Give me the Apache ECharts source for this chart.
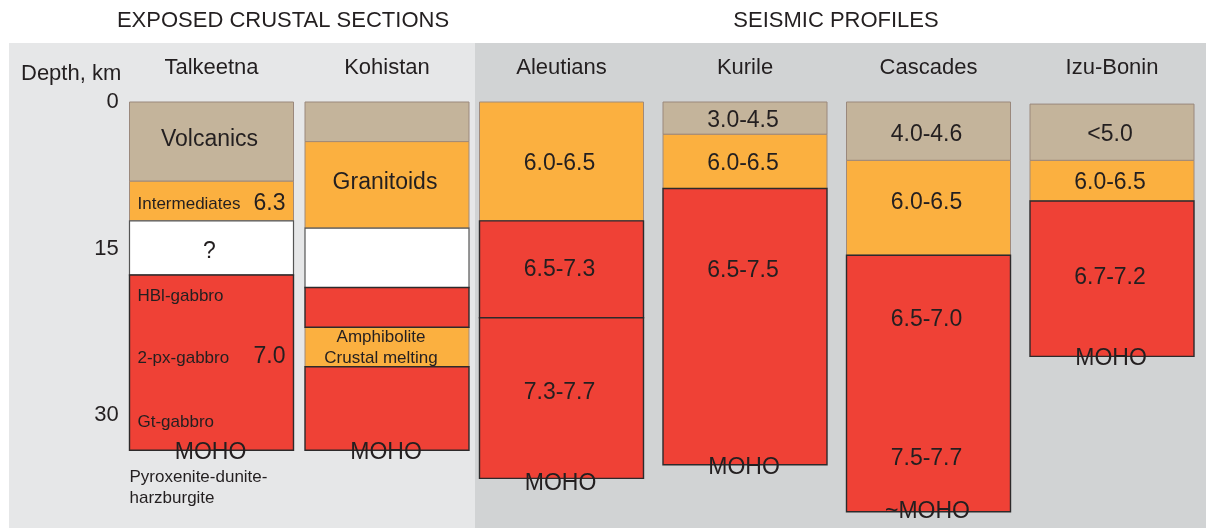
<!DOCTYPE html>
<html>
<head>
<meta charset="utf-8">
<script src="https://cdn.jsdelivr.net/npm/echarts@6/dist/echarts.min.js"></script>
<style>
  html, body { margin: 0; padding: 0; background: #ffffff; }
  #chart { width: 1206px; height: 528px; }
</style>
</head>
<body>
<div id="chart"></div>
<script>
// Columns: exposed arc crustal sections and seismic refraction profiles
const sections = ['Talkeetna', 'Kohistan'];
const profiles = ['Aleutians', 'Kurile', 'Cascades', 'Izu-Bonin'];
const depthTicks = [0, 15, 30];

// Crustal layers (depth in km): column, top, bottom, layer type
const layerColumn = [
  'Talkeetna', 'Talkeetna', 'Talkeetna', 'Talkeetna',
  'Kohistan', 'Kohistan', 'Kohistan', 'Kohistan', 'Kohistan', 'Kohistan',
  'Aleutians', 'Aleutians', 'Aleutians',
  'Kurile', 'Kurile', 'Kurile',
  'Cascades', 'Cascades', 'Cascades',
  'Izu-Bonin', 'Izu-Bonin', 'Izu-Bonin'
];
const layerTop = [
  0, 7.6, 11.4, 16.6,
  0, 3.8, 12.1, 17.8, 21.6, 25.4,
  0, 11.4, 20.7,
  0, 3.1, 8.3,
  0, 5.6, 14.7,
  0.2, 5.6, 9.5
];
const layerBottom = [
  7.6, 11.4, 16.6, 33.4,
  3.8, 12.1, 17.8, 21.6, 25.4, 33.4,
  11.4, 20.7, 36.1,
  3.1, 8.3, 34.8,
  5.6, 14.7, 39.3,
  5.6, 9.5, 24.4
];
const layerKind = [
  'upper', 'middle', 'unknown', 'lower',
  'upper', 'middle', 'unknown', 'lower', 'middle', 'lower',
  'middle', 'lower', 'lower',
  'upper', 'middle', 'lower',
  'upper', 'middle', 'lower',
  'upper', 'middle', 'lower'
];

// Annotations: column, depth (km), text, annotation type
const noteColumn = [
  'Talkeetna', 'Talkeetna', 'Talkeetna', 'Talkeetna', 'Talkeetna', 'Talkeetna',
  'Talkeetna', 'Talkeetna', 'Talkeetna', 'Talkeetna', 'Talkeetna',
  'Kohistan', 'Kohistan', 'Kohistan', 'Kohistan',
  'Aleutians', 'Aleutians', 'Aleutians', 'Aleutians',
  'Kurile', 'Kurile', 'Kurile', 'Kurile',
  'Cascades', 'Cascades', 'Cascades', 'Cascades', 'Cascades',
  'Izu-Bonin', 'Izu-Bonin', 'Izu-Bonin', 'Izu-Bonin'
];
const noteDepth = [
  3.45, 9.6, 9.6, 14.2, 18.4, 24.4,
  24.2, 30.5, 33.4, 35.8, 37.8,
  7.5, 22.4, 24.4, 33.4,
  5.75, 15.9, 27.7, 36.4,
  1.55, 5.75, 16.0, 34.9,
  2.9, 9.5, 20.7, 34.0, 39.1,
  2.9, 7.5, 16.7, 24.4
];
const noteText = [
  'Volcanics', 'Intermediates', '6.3', '?', 'HBl-gabbro', '2-px-gabbro',
  '7.0', 'Gt-gabbro', 'MOHO', 'Pyroxenite-dunite-', 'harzburgite',
  'Granitoids', 'Amphibolite', 'Crustal melting', 'MOHO',
  '6.0-6.5', '6.5-7.3', '7.3-7.7', 'MOHO',
  '3.0-4.5', '6.0-6.5', '6.5-7.5', 'MOHO',
  '4.0-4.6', '6.0-6.5', '6.5-7.0', '7.5-7.7', '~MOHO',
  '<5.0', '6.0-6.5', '6.7-7.2', 'MOHO'
];
const noteKind = [
  'unit', 'rock', 'vpRight', 'vp', 'rock', 'rock',
  'vpRight', 'rock', 'moho', 'mantle', 'mantle',
  'unit', 'rockCenter', 'rockCenter', 'moho',
  'vp', 'vp', 'vp', 'moho',
  'vp', 'vp', 'vp', 'moho',
  'vp', 'vp', 'vp', 'vp', 'moho',
  'vp', 'vp', 'vp', 'moho'
];

// ---- styling ----
const FONT = '"Liberation Sans", Arial, Helvetica, sans-serif';
const INK = '#231f20';
const COL_W = 164;
const TEXT_DY = 2;
const kindNames = ['upper', 'middle', 'unknown', 'lower'];
const kindFill = { upper: '#c4b49b', middle: '#fbb040', unknown: '#ffffff', lower: '#ef4136' };
const kindStroke = { upper: '#9a887c', middle: '#a08a7a', unknown: '#555555', lower: '#2d2a2b' };
const kindLine = { upper: 1, middle: 1, unknown: 1.2, lower: 1.4 };
const noteKinds = ['unit', 'vp', 'vpRight', 'rock', 'rockCenter', 'mantle', 'moho'];
const noteStyle = {
  unit:       { size: 23, align: 'center', dx: -2 },
  vp:         { size: 23, align: 'center', dx: -2 },
  vpRight:    { size: 23, align: 'right',  dx: -8 },
  rock:       { size: 17, align: 'left',   dx: 8 },
  rockCenter: { size: 17, align: 'center', dx: -6 },
  mantle:     { size: 17, align: 'left',   dx: 0 },
  moho:       { size: 23, align: 'center', dx: -1 }
};

const GRID_TOP = 102;
const DEPTH_MAX = 40;
const GRID_H = 417;

function layerData(group) {
  const out = [];
  layerColumn.forEach((c, i) => {
    const ci = group.indexOf(c);
    if (ci >= 0) out.push([ci, layerTop[i], layerBottom[i], kindNames.indexOf(layerKind[i])]);
  });
  return out;
}
function noteData(group) {
  const out = [];
  noteColumn.forEach((c, i) => {
    const ci = group.indexOf(c);
    if (ci >= 0) out.push({ value: [ci, noteDepth[i], noteKinds.indexOf(noteKind[i])], name: noteText[i] });
  });
  return out;
}

function renderLayer(params, api) {
  const p0 = api.coord([api.value(0), api.value(1)]);
  const p1 = api.coord([api.value(0), api.value(2)]);
  const kind = kindNames[api.value(3)];
  return {
    type: 'rect',
    z2: kind === 'lower' ? 3 : (kind === 'unknown' ? 2 : 1),
    shape: { x: p0[0] - COL_W / 2, y: p0[1], width: COL_W, height: p1[1] - p0[1] },
    style: { fill: kindFill[kind], stroke: kindStroke[kind], lineWidth: kindLine[kind] }
  };
}

function noteRenderer(group) {
  const items = noteData(group);
  return function (params, api) {
    const p = api.coord([api.value(0), api.value(1)]);
    const st = noteStyle[noteKinds[api.value(2)]];
    let x = p[0];
    if (st.align === 'left') x = p[0] - COL_W / 2 + st.dx;
    else if (st.align === 'right') x = p[0] + COL_W / 2 + st.dx;
    else x = p[0] + st.dx;
    return {
      type: 'text',
      z2: 20,
      x: x, y: p[1] + TEXT_DY,
      style: {
        text: items[params.dataIndex].name, fill: INK, fontSize: st.size, fontFamily: FONT,
        align: st.align, verticalAlign: 'middle'
      }
    };
  };
}

const chart = echarts.init(document.getElementById('chart'), null, { renderer: 'canvas' });

const yAxisBase = {
  type: 'value', inverse: true, min: 0, max: DEPTH_MAX,
  axisLine: { show: false }, axisTick: { show: false }, splitLine: { show: false }
};
const xAxisBase = {
  type: 'category', position: 'top',
  axisLine: { show: false }, axisTick: { show: false }, splitLine: { show: false },
  axisLabel: { color: INK, fontSize: 22, fontFamily: FONT, margin: 23, interval: 0 }
};

chart.setOption({
  animation: false,
  backgroundColor: '#ffffff',
  graphic: [
    { type: 'rect', z: -10, shape: { x: 9, y: 43, width: 466, height: 485 }, style: { fill: '#e6e7e8' } },
    { type: 'rect', z: -10, shape: { x: 475, y: 43, width: 731, height: 485 }, style: { fill: '#d1d3d4' } },
    { type: 'text', z: 5, x: 283, y: 21, style: { text: 'EXPOSED CRUSTAL SECTIONS', fill: INK, fontSize: 22, fontFamily: FONT, align: 'center', verticalAlign: 'middle' } },
    { type: 'text', z: 5, x: 836, y: 21, style: { text: 'SEISMIC PROFILES', fill: INK, fontSize: 22, fontFamily: FONT, align: 'center', verticalAlign: 'middle' } },
    { type: 'text', z: 5, x: 21, y: 74, style: { text: 'Depth, km', fill: INK, fontSize: 22, fontFamily: FONT, align: 'left', verticalAlign: 'middle' } }
  ],
  grid: [
    { left: 123.75, width: 351, top: GRID_TOP, height: GRID_H },
    { left: 469.75, width: 734, top: GRID_TOP, height: GRID_H }
  ],
  xAxis: [
    Object.assign({}, xAxisBase, { gridIndex: 0, data: sections }),
    Object.assign({}, xAxisBase, { gridIndex: 1, data: profiles })
  ],
  yAxis: [
    Object.assign({}, yAxisBase, {
      gridIndex: 0,
      axisLabel: {
        show: true, customValues: depthTicks, margin: 5,
        color: INK, fontSize: 22, fontFamily: FONT,
        formatter: v => (v === 15 ? '{lift|15}' : String(v)),
        rich: { lift: { fontSize: 22, fontFamily: FONT, color: INK, padding: [0, 0, 18, 0] } }
      }
    }),
    Object.assign({}, yAxisBase, { gridIndex: 1, axisLabel: { show: false } })
  ],
  series: [
    { type: 'custom', name: 'sections', xAxisIndex: 0, yAxisIndex: 0, clip: false, renderItem: renderLayer, data: layerData(sections) },
    { type: 'custom', name: 'profiles', xAxisIndex: 1, yAxisIndex: 1, clip: false, renderItem: renderLayer, data: layerData(profiles) },
    { type: 'custom', name: 'section notes', xAxisIndex: 0, yAxisIndex: 0, clip: false, z: 5, renderItem: noteRenderer(sections), data: noteData(sections) },
    { type: 'custom', name: 'profile notes', xAxisIndex: 1, yAxisIndex: 1, clip: false, z: 5, renderItem: noteRenderer(profiles), data: noteData(profiles) }
  ]
});
</script>
</body>
</html>
